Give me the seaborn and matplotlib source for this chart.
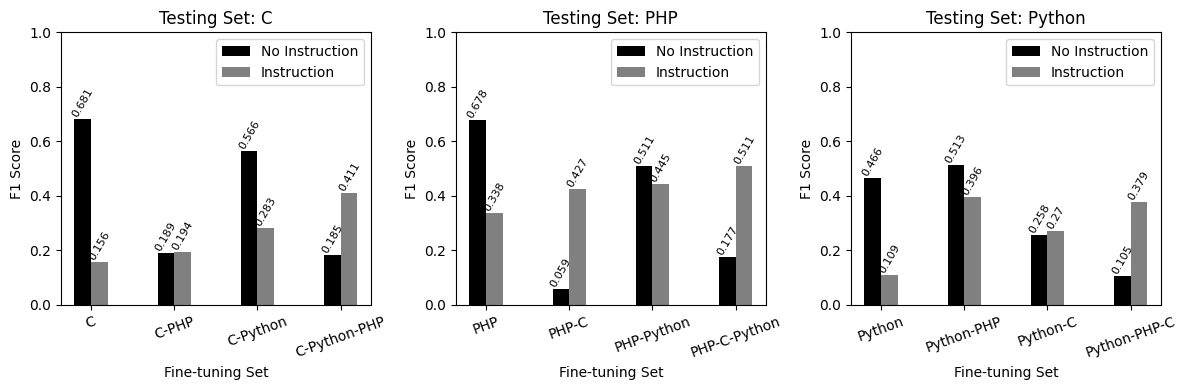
import pandas as pd
import matplotlib
matplotlib.use("Agg")
import matplotlib.pyplot as plt
import seaborn as sns

# values
test_sets = ["C", "PHP", "Python"]
finetune_c = ["C", "C-PHP", "C-Python", "C-Python-PHP"]
finetune_php = ["PHP", "PHP-C", "PHP-Python", "PHP-C-Python"]
finetune_py = ["Python", "Python-PHP", "Python-C", "Python-PHP-C"]

no_instr_c = [0.681, 0.189, 0.566, 0.185]
instr_c = [0.156, 0.194, 0.283, 0.411]
no_instr_php = [0.678, 0.059, 0.511, 0.177]
instr_php = [0.338, 0.427, 0.445, 0.511]
no_instr_py = [0.466, 0.513, 0.258, 0.105]
instr_py = [0.109, 0.396, 0.27, 0.379]

panels = [
    (finetune_c, no_instr_c, instr_c),
    (finetune_php, no_instr_php, instr_php),
    (finetune_py, no_instr_py, instr_py),
]

fig, axes = plt.subplots(1, 3, figsize=(11.86, 3.9))

for ax, name, (sets, noi, ins) in zip(axes, test_sets, panels):
    df = pd.DataFrame({
        "Fine-tuning Set": sets * 2,
        "F1 Score": noi + ins,
        "Mode": ["No Instruction"] * len(sets) + ["Instruction"] * len(sets),
    })
    sns.barplot(data=df, x="Fine-tuning Set", y="F1 Score", hue="Mode",
                palette=["black", "gray"], width=0.4, saturation=1,
                ax=ax, errorbar=None)
    for cont in ax.containers:
        labels = [f"{v:g}" for v in cont.datavalues]
        ax.bar_label(cont, labels=labels, rotation=60, fontsize=8)
    ax.set_ylim(0, 1)
    ax.set_xlim(-0.36, 3.36)
    ax.set_title(f"Testing Set: {name}")
    ax.tick_params(axis="x", labelrotation=20)
    ax.set_xlabel("Fine-tuning Set")
    ax.set_ylabel("F1 Score")
    ax.legend(loc="upper right")

plt.subplots_adjust(left=0.0514, right=0.9787, top=0.917, bottom=0.218, wspace=0.275)
plt.savefig("out.png", dpi=100)
